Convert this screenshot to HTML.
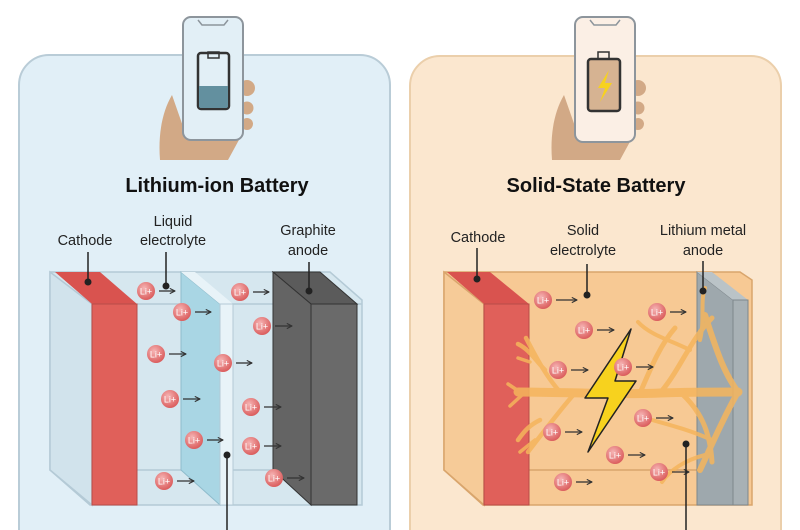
<!DOCTYPE html>
<html><head><meta charset="utf-8"><style>
html,body{margin:0;padding:0;background:#fff;width:800px;height:530px;overflow:hidden;}
svg{display:block;font-family:"Liberation Sans",sans-serif;}
</style></head><body>
<svg width="800" height="530" viewBox="0 0 800 530" xmlns="http://www.w3.org/2000/svg">
<defs>
<radialGradient id="ion" cx="0.4" cy="0.35" r="0.7"><stop offset="0" stop-color="#f6b5b5"/><stop offset="1" stop-color="#d95757"/></radialGradient>
<marker id="ar" viewBox="0 0 10 10" refX="9" refY="5" markerWidth="5" markerHeight="5" orient="auto"><path d="M1,1 L9,5 L1,9" fill="none" stroke="#333" stroke-width="1.6"/></marker>
<g id="li"><circle r="9" fill="url(#ion)"/><text x="0" y="3.5" font-size="9" fill="#fff" text-anchor="middle">Li+</text></g>
</defs>
<!-- panels -->
<path d="M19,530 V85 a30,30 0 0 1 30,-30 H360 a30,30 0 0 1 30,30 V530" fill="#e1eff7" stroke="#b9ccd7" stroke-width="2"/>
<path d="M410,530 V86 a30,30 0 0 1 30,-30 H751 a30,30 0 0 1 30,30 V530" fill="#fbe7cf" stroke="#ebcfab" stroke-width="2"/>

<!-- left phone -->
<path d="M172,95 C162,112 158,135 160,160 L228,160 L240,138 L186,135 Z" fill="#d2a986"/>
<circle cx="247" cy="88" r="8" fill="#d2a986"/><circle cx="247" cy="108" r="6.5" fill="#d2a986"/><circle cx="247" cy="124" r="6" fill="#d2a986"/>
<rect x="183" y="17" width="60" height="123" rx="8" fill="#e2eff6" stroke="#8d959c" stroke-width="2"/>
<path d="M198,20 L202,25 L224,25 L228,20" fill="none" stroke="#8d959c" stroke-width="1.5"/>
<rect x="198" y="53" width="31" height="56" rx="3" fill="#e2eff6" stroke="#333" stroke-width="2.5"/>
<rect x="208" y="52" width="11" height="6" fill="none" stroke="#333" stroke-width="1.5"/>
<path d="M199,86 H228 V106 a2,2 0 0 1 -2,2 H201 a2,2 0 0 1 -2,-2 Z" fill="#63909f"/>

<!-- right phone -->
<path d="M564,95 C554,112 550,135 552,160 L620,160 L632,138 L578,135 Z" fill="#d2a986"/>
<circle cx="638" cy="88" r="8" fill="#d2a986"/><circle cx="638" cy="108" r="6.5" fill="#d2a986"/><circle cx="638" cy="124" r="6" fill="#d2a986"/>
<rect x="575" y="17" width="60" height="125" rx="8" fill="#fbefe5" stroke="#8d959c" stroke-width="2"/>
<path d="M590,20 L594,25 L616,25 L620,20" fill="none" stroke="#8d959c" stroke-width="1.5"/>
<rect x="588" y="59" width="32" height="52" rx="3" fill="#d6b392" stroke="#333" stroke-width="2.5"/>
<rect x="598" y="52" width="11" height="7" fill="none" stroke="#333" stroke-width="1.5"/>
<path d="M609,70 L598,88 L605,88 L600,102 L612,83 L605,83 Z" fill="#f7d21e"/>

<text x="217" y="192" font-size="20" font-weight="bold" text-anchor="middle" fill="#111">Lithium-ion Battery</text>
<text x="596" y="192" font-size="20" font-weight="bold" text-anchor="middle" fill="#111">Solid-State Battery</text>

<g font-size="14.5" fill="#222" text-anchor="middle">
<text x="85" y="245">Cathode</text>
<text x="173" y="226">Liquid</text><text x="173" y="245">electrolyte</text>
<text x="308" y="235">Graphite</text><text x="308" y="255">anode</text>
<text x="478" y="242">Cathode</text>
<text x="583" y="235">Solid</text><text x="583" y="255">electrolyte</text>
<text x="703" y="235">Lithium metal</text><text x="703" y="255">anode</text>
</g>

<!-- LEFT BATTERY -->
<path d="M50,272 L330,272 L362,300 L362,505 L90,505 L50,470 Z" fill="#d6e7ef" stroke="#b4cad6" stroke-width="1.5"/>
<path d="M137,304 L362,304 M137,470 L330,470" stroke="#b4cad6" stroke-width="1.5"/>
<path d="M50,272 L92,304 L92,505 L50,470 Z" fill="#d1e3ec" stroke="#b4cad6" stroke-width="1.5"/>
<path d="M55,272 L100,272 L137,304 L92,304 Z" fill="#d9534f"/>
<rect x="92" y="304" width="45" height="201" fill="#e0605a" stroke="#b84c48" stroke-width="1"/>
<path d="M181,272 L220,304 L220,505 L181,470 Z" fill="#a9d6e4" stroke="#8fbccc" stroke-width="1"/>
<path d="M181,272 L195,272 L233,304 L220,304 Z" fill="#e8f3f8"/>
<rect x="220" y="304" width="13" height="201" fill="#e8f3f8" stroke="#b4cad6" stroke-width="1"/>
<path d="M273,272 L320,272 L357,304 L311,304 Z" fill="#5b5b5b" stroke="#333" stroke-width="1"/>
<path d="M273,272 L311,304 L311,505 L273,470 Z" fill="#646464" stroke="#333" stroke-width="1"/>
<rect x="311" y="304" width="46" height="201" fill="#6a6a6a" stroke="#333" stroke-width="1"/>

<!-- RIGHT BATTERY -->
<path d="M444,272 L740,272 L752,280 L752,505 L483,505 L444,470 Z" fill="#f7c994" stroke="#d9a56c" stroke-width="1.5"/>
<path d="M529,470 L697,470" stroke="#d9a56c" stroke-width="1.5"/>
<path d="M444,272 L484,304 L484,505 L444,470 Z" fill="#f6cb98" stroke="#d9a56c" stroke-width="1.5"/>
<path d="M447,272 L490,272 L529,304 L484,304 Z" fill="#d9534f"/>
<rect x="484" y="304" width="45" height="201" fill="#e0605a" stroke="#b84c48" stroke-width="1"/>
<path d="M697,272 L733,300 L733,505 L697,505 Z" fill="#9ea8ad" stroke="#7e878c" stroke-width="1"/>
<path d="M697,272 L712,272 L748,300 L733,300 Z" fill="#bac3c7"/>
<rect x="733" y="300" width="15" height="205" fill="#a8b1b5" stroke="#7e878c" stroke-width="1"/>

<!-- dendrites -->
<g fill="none" stroke="#f5b55c" stroke-linecap="round" opacity="0.85">
<path d="M518,392 C560,392 620,395 660,393 C690,392 720,392 738,392" stroke-width="9"/>
<path d="M738,392 C722,370 715,345 705,315 M738,392 C722,420 712,445 700,470" stroke-width="6"/>
<path d="M660,393 C680,370 690,340 712,318 M640,393 C650,370 660,345 675,328 M680,392 C700,410 710,430 712,462" stroke-width="5"/>
<path d="M690,350 C670,340 650,335 638,322 M700,340 C705,320 700,300 705,288 M712,440 C690,430 670,425 652,420 M705,455 C685,460 670,470 662,482" stroke-width="4"/>
<path d="M560,392 C545,375 535,355 526,338 M575,393 C560,410 545,430 528,452 M545,370 C535,360 530,350 518,344 M540,420 C530,425 525,430 518,440" stroke-width="4.5"/>
<path d="M520,392 L508,384 M522,395 L510,406 M530,362 L518,358 M535,440 L520,452" stroke-width="3.5"/>
</g>

<!-- bolt -->
<path d="M631,329 L585,398 L608,398 L588,452 L636,381 L615,381 Z" fill="#f7d21e" stroke="#222" stroke-width="1.5" stroke-linejoin="round"/>

<!-- ions -->
<g>
<use href="#li" x="146" y="291"/><use href="#li" x="182" y="312"/><use href="#li" x="156" y="354"/><use href="#li" x="170" y="399"/><use href="#li" x="194" y="440"/><use href="#li" x="164" y="481"/>
<use href="#li" x="240" y="292"/><use href="#li" x="262" y="326"/><use href="#li" x="223" y="363"/><use href="#li" x="251" y="407"/><use href="#li" x="251" y="446"/><use href="#li" x="274" y="478"/>
<use href="#li" x="543" y="300"/><use href="#li" x="584" y="330"/><use href="#li" x="558" y="370"/><use href="#li" x="552" y="432"/><use href="#li" x="563" y="482"/>
<use href="#li" x="657" y="312"/><use href="#li" x="623" y="367"/><use href="#li" x="643" y="418"/><use href="#li" x="615" y="455"/><use href="#li" x="659" y="472"/>
</g>
<g stroke="#333" stroke-width="1.3" marker-end="url(#ar)">
<path d="M159,291 H175"/><path d="M195,312 H211"/><path d="M169,354 H186"/><path d="M183,399 H200"/><path d="M207,440 H223"/><path d="M177,481 H194"/>
<path d="M253,292 H269"/><path d="M275,326 H292"/><path d="M236,363 H252"/><path d="M264,407 H281"/><path d="M264,446 H281"/><path d="M287,478 H304"/>
<path d="M556,300 H577"/><path d="M597,330 H614"/><path d="M571,370 H588"/><path d="M565,432 H582"/><path d="M576,482 H592"/>
<path d="M670,312 H686"/><path d="M636,367 H653"/><path d="M656,418 H673"/><path d="M628,455 H645"/><path d="M672,472 H689"/>
</g>

<!-- pointers -->
<g stroke="#222" stroke-width="1.5">
<path d="M88,252 V282"/><path d="M166,252 V286"/><path d="M309,262 V291"/><path d="M227,455 V530"/>
<path d="M477,248 V279"/><path d="M587,264 V295"/><path d="M703,261 V291"/><path d="M686,444 V530"/>
</g>
<g fill="#222">
<circle cx="88" cy="282" r="3.5"/><circle cx="166" cy="286" r="3.5"/><circle cx="309" cy="291" r="3.5"/><circle cx="227" cy="455" r="3.5"/>
<circle cx="477" cy="279" r="3.5"/><circle cx="587" cy="295" r="3.5"/><circle cx="703" cy="291" r="3.5"/><circle cx="686" cy="444" r="3.5"/>
</g>
</svg>
</body></html>
